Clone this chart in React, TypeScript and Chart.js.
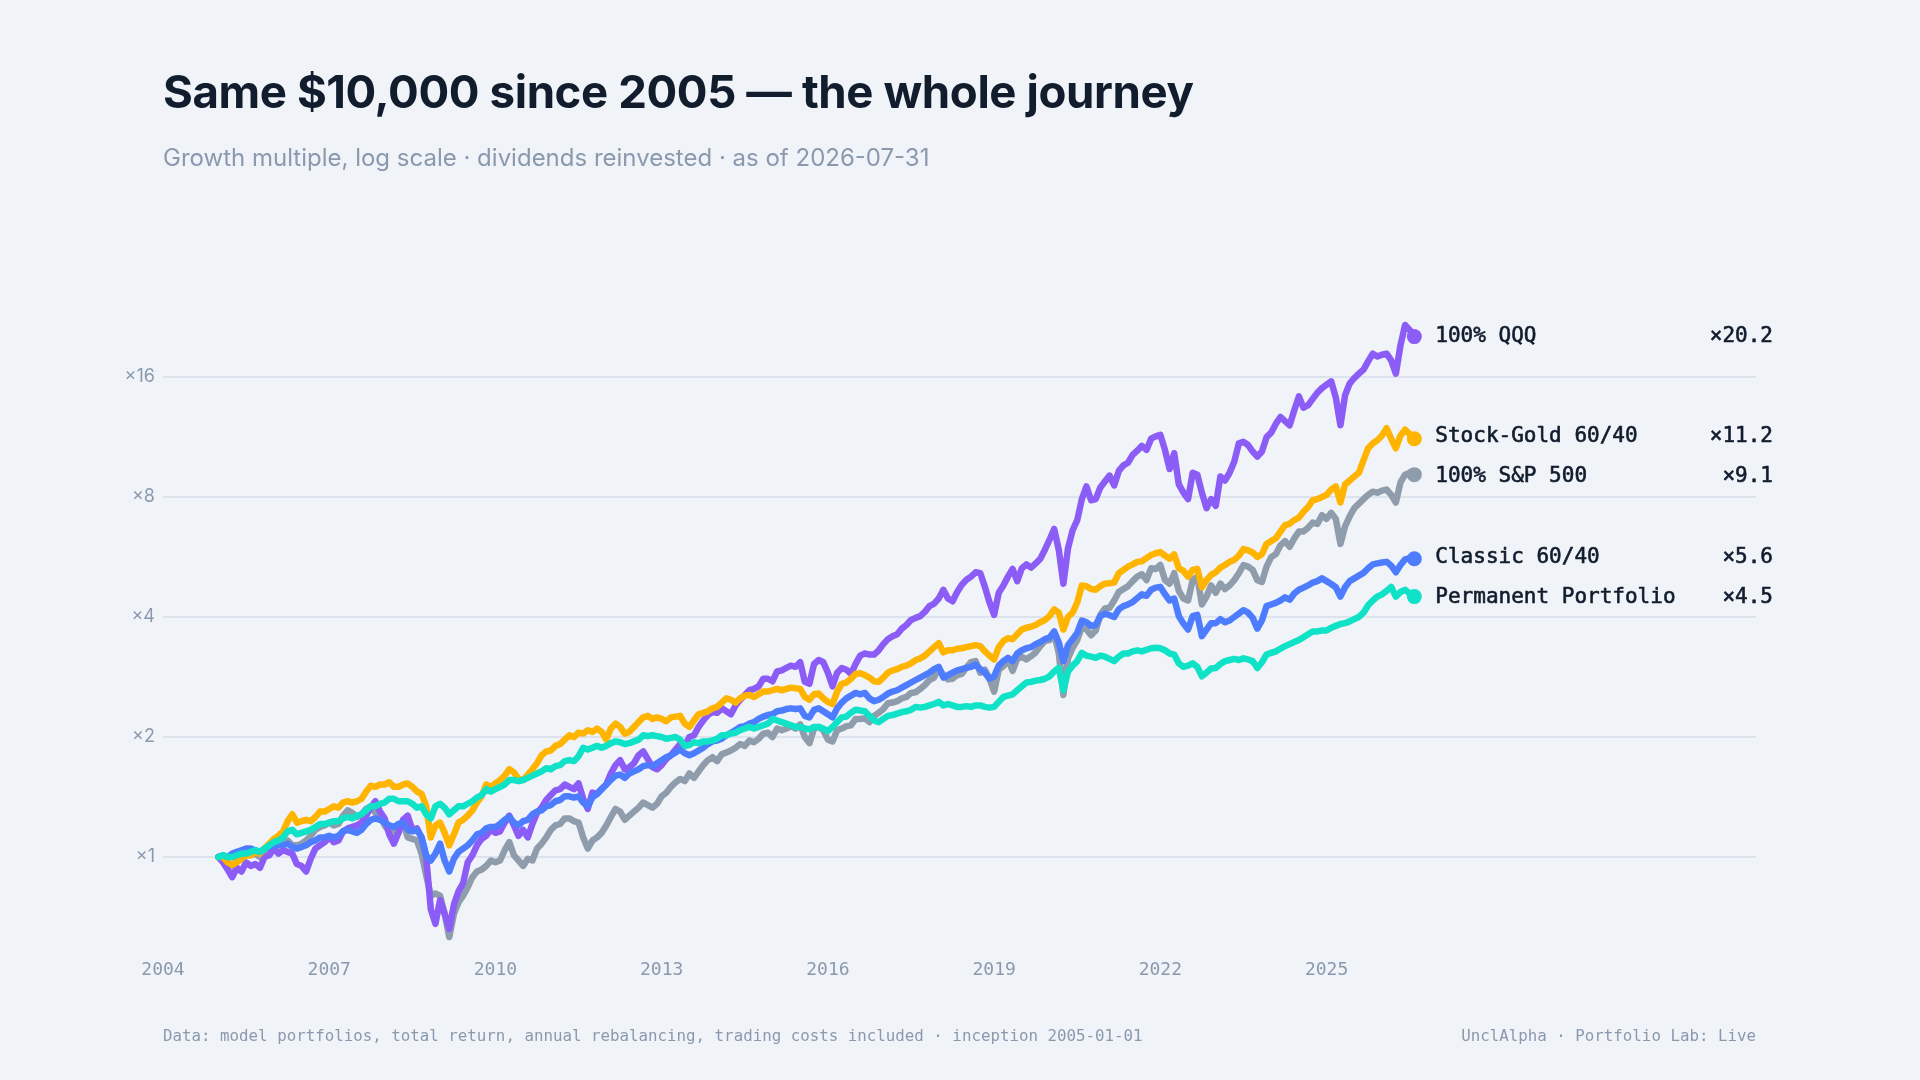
import { useEffect, useRef } from "react";
import { Chart, registerables } from "chart.js";

Chart.register(...registerables);

// ---------- data ----------
const START_YEAR = 2005;
const X_MIN = 2004;
const X_MAX = 2032.75;
const X_TICKS = [2004, 2007, 2010, 2013, 2016, 2019, 2022, 2025];
const Y_TICKS = [1, 2, 4, 8, 16];
const Y_MIN = 0.5845;
const Y_MAX = 26.9;

const SERIES_NAMES = ["100% QQQ", "Stock-Gold 60/40", "100% S&P 500", "Classic 60/40", "Permanent Portfolio"];
const SERIES_COLORS = ["#8b5cf6", "#ffb400", "#8e9cab", "#4d7cff", "#0fe2c6"];
const SERIES_ORDER = [4, 3, 5, 2, 1];

// monthly growth multiples, Jan 2005 .. Jul 2026
const qqq = [
  1.00, 0.97, 0.93, 0.89, 0.94, 0.92, 0.97, 0.95, 0.96, 0.94, 1.00, 1.01,
  1.05, 1.02, 1.04, 1.03, 1.02, 0.96, 0.95, 0.92, 0.99, 1.05, 1.07, 1.09,
  1.12, 1.09, 1.10, 1.16, 1.18, 1.19, 1.20, 1.22, 1.27, 1.33, 1.38, 1.30,
  1.25, 1.14, 1.08, 1.15, 1.24, 1.27, 1.17, 1.18, 1.12, 1.00, 0.74, 0.68,
  0.78, 0.72, 0.66, 0.76, 0.82, 0.86, 0.97, 1.01, 1.07, 1.11, 1.13, 1.17,
  1.15, 1.16, 1.22, 1.27, 1.20, 1.13, 1.17, 1.12, 1.21, 1.29, 1.33, 1.39,
  1.43, 1.47, 1.48, 1.52, 1.50, 1.48, 1.53, 1.40, 1.32, 1.45, 1.44, 1.48,
  1.52, 1.62, 1.70, 1.75, 1.66, 1.68, 1.72, 1.80, 1.84, 1.76, 1.68, 1.66,
  1.70, 1.76, 1.80, 1.86, 1.92, 1.90, 2.00, 2.02, 2.12, 2.20, 2.27, 2.31,
  2.30, 2.36, 2.32, 2.28, 2.40, 2.48, 2.55, 2.62, 2.64, 2.68, 2.80, 2.80,
  2.76, 2.92, 2.94, 2.98, 3.02, 3.00, 3.08, 2.75, 2.72, 3.05, 3.12, 3.08,
  2.90, 2.68, 2.90, 2.98, 2.95, 2.88, 3.05, 3.20, 3.24, 3.22, 3.22, 3.30,
  3.42, 3.52, 3.58, 3.62, 3.74, 3.82, 3.93, 3.98, 4.02, 4.12, 4.26, 4.32,
  4.45, 4.68, 4.45, 4.38, 4.62, 4.82, 4.96, 5.05, 5.18, 5.15, 4.76, 4.35,
  4.05, 4.60, 4.80, 5.05, 5.28, 4.92, 5.30, 5.42, 5.32, 5.45, 5.60, 5.90,
  6.25, 6.65, 5.90, 4.85, 5.95, 6.60, 7.00, 7.90, 8.50, 7.85, 7.90, 8.45,
  8.75, 9.05, 8.55, 9.30, 9.60, 9.75, 10.20, 10.45, 10.75, 10.50, 11.20, 11.35,
  11.45, 10.50, 9.40, 10.30, 8.60, 8.20, 7.90, 9.20, 9.10, 8.20, 7.50, 7.90,
  7.60, 9.00, 8.80, 9.20, 9.80, 10.90, 11.00, 10.80, 10.40, 10.10, 10.40, 11.30,
  11.60, 12.20, 12.70, 12.40, 12.10, 13.20, 14.30, 13.40, 13.60, 14.10, 14.60, 15.00,
  15.30, 15.60, 14.20, 12.10, 14.40, 15.40, 15.90, 16.30, 16.70, 17.50, 18.30, 18.00,
  18.20, 18.30, 17.60, 16.30, 19.20, 21.60, 21.00, 20.20,
];

const stockGold = [
  1.00, 1.00, 0.97, 0.955, 0.97, 0.99, 1.01, 1.01, 1.03, 1.02, 1.05, 1.08,
  1.11, 1.13, 1.16, 1.23, 1.28, 1.22, 1.23, 1.24, 1.23, 1.26, 1.30, 1.30,
  1.32, 1.34, 1.33, 1.37, 1.38, 1.37, 1.38, 1.40, 1.46, 1.51, 1.50, 1.52,
  1.52, 1.54, 1.50, 1.50, 1.52, 1.53, 1.50, 1.46, 1.44, 1.34, 1.12, 1.20,
  1.22, 1.15, 1.07, 1.14, 1.22, 1.24, 1.27, 1.31, 1.37, 1.42, 1.52, 1.50,
  1.53, 1.56, 1.60, 1.66, 1.63, 1.57, 1.56, 1.61, 1.66, 1.72, 1.80, 1.84,
  1.85, 1.90, 1.92, 1.97, 2.02, 2.00, 2.05, 2.04, 2.08, 2.06, 2.10, 2.06,
  1.97, 2.10, 2.16, 2.12, 2.04, 2.06, 2.12, 2.18, 2.24, 2.26, 2.22, 2.24,
  2.22, 2.19, 2.24, 2.25, 2.26, 2.16, 2.12, 2.20, 2.28, 2.30, 2.32, 2.36,
  2.38, 2.44, 2.50, 2.48, 2.44, 2.50, 2.54, 2.55, 2.52, 2.56, 2.60, 2.60,
  2.62, 2.64, 2.62, 2.64, 2.66, 2.65, 2.64, 2.52, 2.48, 2.56, 2.57, 2.50,
  2.45, 2.42, 2.60, 2.72, 2.74, 2.80, 2.88, 2.89, 2.86, 2.82, 2.76, 2.75,
  2.82, 2.90, 2.94, 2.96, 3.00, 3.02, 3.06, 3.12, 3.15, 3.20, 3.28, 3.36,
  3.44, 3.26, 3.30, 3.30, 3.33, 3.34, 3.36, 3.38, 3.40, 3.38, 3.28, 3.20,
  3.13, 3.36, 3.48, 3.54, 3.52, 3.62, 3.72, 3.76, 3.78, 3.82, 3.88, 3.93,
  4.02, 4.18, 4.10, 3.72, 4.00, 4.10, 4.35, 4.80, 4.78, 4.70, 4.68, 4.78,
  4.85, 4.86, 4.88, 5.15, 5.25, 5.35, 5.42, 5.50, 5.52, 5.62, 5.72, 5.78,
  5.82, 5.70, 5.60, 5.74, 5.30, 5.22, 5.05, 5.25, 5.28, 4.75, 4.95, 5.10,
  5.18, 5.32, 5.40, 5.50, 5.56, 5.70, 5.92, 5.88, 5.80, 5.66, 5.75, 6.10,
  6.20, 6.30, 6.55, 6.80, 6.85, 7.00, 7.10, 7.35, 7.55, 7.85, 7.90, 8.00,
  8.10, 8.35, 8.50, 7.75, 8.60, 8.80, 9.00, 9.20, 9.90, 10.60, 10.90, 11.10,
  11.40, 11.90, 11.20, 10.60, 11.40, 11.80, 11.50, 11.20,
];

const sp500 = [
  1.00, 0.99, 0.97, 0.95, 0.98, 0.99, 1.02, 1.01, 1.02, 1.00, 1.04, 1.04,
  1.07, 1.07, 1.09, 1.10, 1.07, 1.07, 1.08, 1.10, 1.13, 1.17, 1.19, 1.20,
  1.22, 1.20, 1.21, 1.27, 1.31, 1.29, 1.26, 1.28, 1.32, 1.34, 1.29, 1.27,
  1.20, 1.16, 1.15, 1.21, 1.22, 1.12, 1.11, 1.10, 1.02, 0.90, 0.80, 0.81,
  0.80, 0.72, 0.63, 0.72, 0.77, 0.80, 0.84, 0.89, 0.92, 0.93, 0.95, 0.98,
  0.97, 0.98, 1.04, 1.09, 1.01, 0.98, 0.95, 0.99, 0.98, 1.05, 1.08, 1.12,
  1.17, 1.20, 1.21, 1.25, 1.25, 1.23, 1.22, 1.12, 1.05, 1.10, 1.12, 1.15,
  1.20, 1.26, 1.32, 1.30, 1.24, 1.27, 1.30, 1.33, 1.37, 1.35, 1.33, 1.36,
  1.42, 1.45, 1.50, 1.54, 1.57, 1.55, 1.62, 1.58, 1.64, 1.70, 1.75, 1.78,
  1.74, 1.81, 1.83, 1.85, 1.88, 1.92, 1.90, 1.96, 1.94, 1.98, 2.04, 2.05,
  2.00, 2.10, 2.08, 2.10, 2.13, 2.10, 2.15, 2.00, 1.93, 2.10, 2.12, 2.08,
  1.97, 1.95, 2.08, 2.10, 2.13, 2.14, 2.22, 2.22, 2.23, 2.18, 2.26, 2.30,
  2.35, 2.43, 2.44, 2.46, 2.50, 2.52, 2.58, 2.59, 2.64, 2.70, 2.78, 2.82,
  2.98, 2.86, 2.79, 2.80, 2.86, 2.88, 2.99, 3.08, 3.10, 2.90, 2.95, 2.80,
  2.60, 2.95, 3.01, 3.13, 2.93, 3.14, 3.18, 3.13, 3.19, 3.26, 3.38, 3.48,
  3.50, 3.62, 3.25, 2.55, 3.15, 3.35, 3.50, 3.78, 3.72, 3.60, 3.70, 4.05,
  4.20, 4.22, 4.40, 4.62, 4.70, 4.78, 4.92, 5.05, 5.12, 4.95, 5.30, 5.28,
  5.40, 4.95, 4.85, 5.15, 4.65, 4.45, 4.40, 4.95, 5.05, 4.30, 4.50, 4.80,
  4.60, 4.85, 4.70, 4.80, 4.95, 5.15, 5.40, 5.35, 5.25, 4.95, 4.90, 5.35,
  5.65, 5.75, 6.05, 6.20, 6.00, 6.30, 6.55, 6.55, 6.70, 6.90, 6.85, 7.20,
  7.05, 7.30, 7.05, 6.10, 6.75, 7.15, 7.50, 7.70, 7.90, 8.10, 8.25, 8.20,
  8.30, 8.35, 8.10, 7.75, 8.70, 9.10, 9.20, 9.10,
];

const classic6040 = [
  1.00, 1.01, 1.00, 1.02, 1.03, 1.04, 1.05, 1.05, 1.04, 1.03, 1.05, 1.06,
  1.07, 1.07, 1.07, 1.08, 1.06, 1.05, 1.06, 1.07, 1.09, 1.10, 1.12, 1.12,
  1.13, 1.12, 1.13, 1.16, 1.17, 1.16, 1.15, 1.17, 1.21, 1.24, 1.25, 1.24,
  1.22, 1.20, 1.19, 1.21, 1.22, 1.17, 1.16, 1.17, 1.12, 1.01, 0.98, 1.02,
  1.08, 0.98, 0.92, 0.99, 1.03, 1.05, 1.07, 1.10, 1.14, 1.15, 1.18, 1.19,
  1.19, 1.21, 1.24, 1.26, 1.22, 1.20, 1.23, 1.24, 1.28, 1.30, 1.31, 1.34,
  1.35, 1.38, 1.39, 1.42, 1.42, 1.41, 1.42, 1.37, 1.34, 1.41, 1.44, 1.48,
  1.52, 1.56, 1.60, 1.61, 1.58, 1.62, 1.64, 1.66, 1.69, 1.70, 1.69, 1.72,
  1.75, 1.78, 1.80, 1.83, 1.86, 1.82, 1.80, 1.82, 1.85, 1.88, 1.92, 1.95,
  1.96, 1.98, 2.02, 2.05, 2.08, 2.12, 2.13, 2.16, 2.18, 2.22, 2.25, 2.27,
  2.28, 2.32, 2.33, 2.35, 2.36, 2.35, 2.36, 2.26, 2.24, 2.34, 2.36, 2.32,
  2.28, 2.24, 2.36, 2.44, 2.50, 2.54, 2.58, 2.56, 2.58, 2.50, 2.46, 2.48,
  2.52, 2.57, 2.60, 2.62, 2.66, 2.70, 2.74, 2.78, 2.82, 2.86, 2.90, 2.96,
  3.00, 2.82, 2.86, 2.90, 2.94, 2.96, 2.98, 3.00, 3.04, 2.96, 2.90, 2.80,
  2.84, 3.02, 3.10, 3.16, 3.10, 3.24, 3.30, 3.34, 3.36, 3.42, 3.46, 3.52,
  3.55, 3.68, 3.45, 3.10, 3.40, 3.52, 3.65, 3.92, 3.88, 3.80, 3.82, 4.02,
  4.08, 4.04, 4.00, 4.18, 4.26, 4.30, 4.36, 4.46, 4.56, 4.52, 4.68, 4.74,
  4.76, 4.56, 4.40, 4.45, 4.02, 3.85, 3.72, 4.02, 4.05, 3.58, 3.72, 3.86,
  3.86, 3.95, 3.88, 3.92, 4.00, 4.08, 4.16, 4.10, 3.98, 3.74, 3.92, 4.26,
  4.30, 4.34, 4.40, 4.48, 4.42, 4.58, 4.68, 4.74, 4.80, 4.88, 4.92, 5.00,
  4.92, 4.84, 4.75, 4.50, 4.75, 4.92, 5.00, 5.08, 5.16, 5.30, 5.42, 5.45,
  5.48, 5.50, 5.38, 5.18, 5.40, 5.58, 5.62, 5.60,
];

const permanent = [
  1.00, 1.01, 1.00, 1.00, 1.01, 1.02, 1.02, 1.03, 1.04, 1.03, 1.05, 1.07,
  1.09, 1.10, 1.12, 1.16, 1.17, 1.14, 1.15, 1.16, 1.17, 1.19, 1.21, 1.21,
  1.22, 1.23, 1.23, 1.25, 1.26, 1.25, 1.27, 1.28, 1.31, 1.34, 1.34, 1.36,
  1.37, 1.40, 1.40, 1.38, 1.38, 1.38, 1.36, 1.33, 1.34, 1.28, 1.25, 1.34,
  1.36, 1.33, 1.28, 1.31, 1.34, 1.34, 1.36, 1.38, 1.41, 1.43, 1.48, 1.46,
  1.48, 1.50, 1.52, 1.56, 1.56, 1.55, 1.56, 1.58, 1.60, 1.62, 1.64, 1.67,
  1.66, 1.69, 1.70, 1.74, 1.75, 1.74, 1.79, 1.88, 1.86, 1.88, 1.90, 1.88,
  1.90, 1.93, 1.95, 1.94, 1.92, 1.93, 1.95, 1.97, 2.02, 2.01, 2.02, 2.01,
  2.00, 1.98, 1.99, 2.00, 1.97, 1.90, 1.91, 1.94, 1.93, 1.95, 1.95, 1.96,
  1.98, 2.02, 2.02, 2.04, 2.05, 2.08, 2.10, 2.12, 2.10, 2.12, 2.14, 2.16,
  2.22, 2.20, 2.18, 2.16, 2.14, 2.12, 2.12, 2.10, 2.09, 2.12, 2.12, 2.10,
  2.07, 2.12, 2.18, 2.24, 2.25, 2.30, 2.34, 2.33, 2.32, 2.26, 2.20, 2.18,
  2.22, 2.26, 2.27, 2.29, 2.31, 2.32, 2.34, 2.38, 2.37, 2.38, 2.40, 2.42,
  2.45, 2.40, 2.42, 2.40, 2.38, 2.38, 2.39, 2.38, 2.40, 2.40, 2.38, 2.37,
  2.38, 2.45, 2.52, 2.54, 2.56, 2.62, 2.68, 2.74, 2.75, 2.77, 2.78, 2.80,
  2.84, 2.92, 2.98, 2.62, 2.92, 3.02, 3.10, 3.25, 3.20, 3.18, 3.16, 3.20,
  3.18, 3.14, 3.10, 3.18, 3.24, 3.24, 3.28, 3.30, 3.28, 3.31, 3.34, 3.35,
  3.34, 3.30, 3.24, 3.22, 3.06, 3.00, 3.02, 3.06, 3.00, 2.84, 2.90, 2.97,
  2.98, 3.05, 3.10, 3.12, 3.14, 3.12, 3.15, 3.13, 3.10, 2.98, 3.08, 3.22,
  3.25, 3.28, 3.33, 3.38, 3.42, 3.46, 3.50, 3.56, 3.62, 3.68, 3.68, 3.70,
  3.70, 3.76, 3.80, 3.84, 3.86, 3.90, 3.95, 4.00, 4.10, 4.28, 4.40, 4.50,
  4.56, 4.65, 4.76, 4.50, 4.62, 4.68, 4.58, 4.50,
];

const SERIES_VALUES = [qqq, stockGold, sp500, classic6040, permanent];

// decimal-year positions of the monthly observations
const MONTH_X = qqq.map((_, i) => START_YEAR + i / 12);

// ---------- styles ----------
const BG = "#f0f3f8";
const INK = "#111c2d";
const MUTED = "#8a99ad";
const GRID = "#dde3ec";
const MONO = '"DejaVu Sans Mono", "Liberation Mono", monospace';
const SANS = 'Inter, "Noto Sans", sans-serif';

const endLabelsPlugin = {
  id: "endLabels",
  afterDatasetsDraw(chart: any) {
    const { ctx, scales } = chart;
    const xs = scales.x;
    const ys = scales.y;
    const items = chart.data.datasets.map((ds: any, i: number) => {
      const last = ds.data[ds.data.length - 1];
      const py = ys.getPixelForValue(last.y);
      return { i, value: last.y, px: xs.getPixelForValue(last.x), ly: py };
    });
    const sorted = [...items].sort((a: any, b: any) => a.ly - b.ly);
    const GAP = 40;
    for (let it = 0; it < 30; it++) {
      let moved = false;
      for (let k = 1; k < sorted.length; k++) {
        const d = sorted[k].ly - sorted[k - 1].ly;
        if (d < GAP - 0.01) {
          const s = (GAP - d) / 2;
          sorted[k - 1].ly -= s;
          sorted[k].ly += s;
          moved = true;
        }
      }
      if (!moved) break;
    }
    ctx.save();
    ctx.fillStyle = INK;
    ctx.strokeStyle = INK;
    ctx.lineWidth = 0.6;
    ctx.lineJoin = "round";
    ctx.font = `21px ${MONO}`;
    ctx.textBaseline = "middle";
    items.forEach((it: any) => {
      const name = SERIES_NAMES[it.i];
      const val = "×" + it.value.toFixed(1);
      ctx.textAlign = "left";
      ctx.fillText(name, it.px + 21, it.ly);
      ctx.strokeText(name, it.px + 21, it.ly);
      ctx.textAlign = "right";
      ctx.fillText(val, chart.chartArea.right + 17, it.ly);
      ctx.strokeText(val, chart.chartArea.right + 17, it.ly);
    });
    ctx.restore();
  },
};

export default function App() {
  const canvasRef = useRef<HTMLCanvasElement | null>(null);

  useEffect(() => {
    const canvas = canvasRef.current;
    if (!canvas) return;
    const datasets = SERIES_VALUES.map((vals, i) => ({
      label: SERIES_NAMES[i],
      data: vals.map((v, k) => ({ x: MONTH_X[k], y: v })),
      borderColor: SERIES_COLORS[i],
      backgroundColor: SERIES_COLORS[i],
      borderWidth: 6.5,
      borderJoinStyle: "round" as const,
      borderCapStyle: "round" as const,
      tension: 0,
      order: SERIES_ORDER[i],
      pointRadius: (c: any) => (c.dataIndex === vals.length - 1 ? 7.5 : 0),
      pointBackgroundColor: SERIES_COLORS[i],
      pointBorderWidth: 0,
      pointHoverRadius: 0,
      clip: false as any,
    }));

    const chart = new Chart(canvas, {
      type: "line",
      data: { datasets },
      options: {
        responsive: false,
        animation: false,
        devicePixelRatio: 1,
        events: [],
        layout: { padding: { left: 103, right: 164, top: 287, bottom: 90 } },
        plugins: { legend: { display: false }, tooltip: { enabled: false }, title: { display: false } },
        scales: {
          x: {
            type: "linear",
            min: X_MIN,
            max: X_MAX,
            grid: { display: false, drawTicks: false },
            border: { display: false },
            afterBuildTicks: (s: any) => {
              s.ticks = X_TICKS.map((v) => ({ value: v }));
            },
            afterFit: (s: any) => {
              s.height = 40;
            },
            ticks: {
              autoSkip: false,
              maxRotation: 0,
              padding: 10,
              color: MUTED,
              font: { family: MONO, size: 18 },
              callback: (v: any) => String(v),
            },
          },
          y: {
            type: "logarithmic",
            min: Y_MIN,
            max: Y_MAX,
            grid: { color: GRID, lineWidth: 2, drawTicks: false },
            border: { display: false },
            afterBuildTicks: (s: any) => {
              s.ticks = Y_TICKS.map((v) => ({ value: v }));
            },
            afterFit: (s: any) => {
              s.width = 60;
            },
            ticks: {
              padding: 8,
              color: MUTED,
              font: { family: SANS, size: 18 },
              callback: (v: any) => "×" + v,
            },
          },
        },
      },
      plugins: [endLabelsPlugin],
    });
    return () => chart.destroy();
  }, []);

  return (
    <div
      style={{
        position: "absolute",
        left: 0,
        top: 0,
        width: 1920,
        height: 1080,
        background: BG,
        overflow: "hidden",
      }}
    >
      <canvas ref={canvasRef} width={1920} height={1080} style={{ position: "absolute", left: 0, top: 0, width: 1920, height: 1080 }} />
      <div
        style={{
          position: "absolute",
          left: 163,
          top: 69,
          fontFamily: SANS,
          fontWeight: 700,
          fontSize: 45.6,
          lineHeight: "46px",
          color: INK,
          letterSpacing: -0.4,
          whiteSpace: "nowrap",
        }}
      >
        Same $10,000 since 2005 — the whole journey
      </div>
      <div
        style={{
          position: "absolute",
          left: 163,
          top: 146,
          fontFamily: SANS,
          fontSize: 24,
          lineHeight: "24px",
          color: MUTED,
          whiteSpace: "nowrap",
        }}
      >
        Growth multiple, log scale · dividends reinvested · as of 2026-07-31
      </div>
      <div
        style={{
          position: "absolute",
          left: 163,
          top: 1027,
          fontFamily: MONO,
          fontSize: 15.8,
          lineHeight: "18px",
          color: MUTED,
          whiteSpace: "nowrap",
        }}
      >
        Data: model portfolios, total return, annual rebalancing, trading costs included · inception 2005-01-01
      </div>
      <div
        style={{
          position: "absolute",
          right: 1920 - 1756,
          top: 1027,
          fontFamily: MONO,
          fontSize: 15.8,
          lineHeight: "18px",
          color: MUTED,
          whiteSpace: "nowrap",
        }}
      >
        UnclAlpha · Portfolio Lab: Live
      </div>
    </div>
  );
}
